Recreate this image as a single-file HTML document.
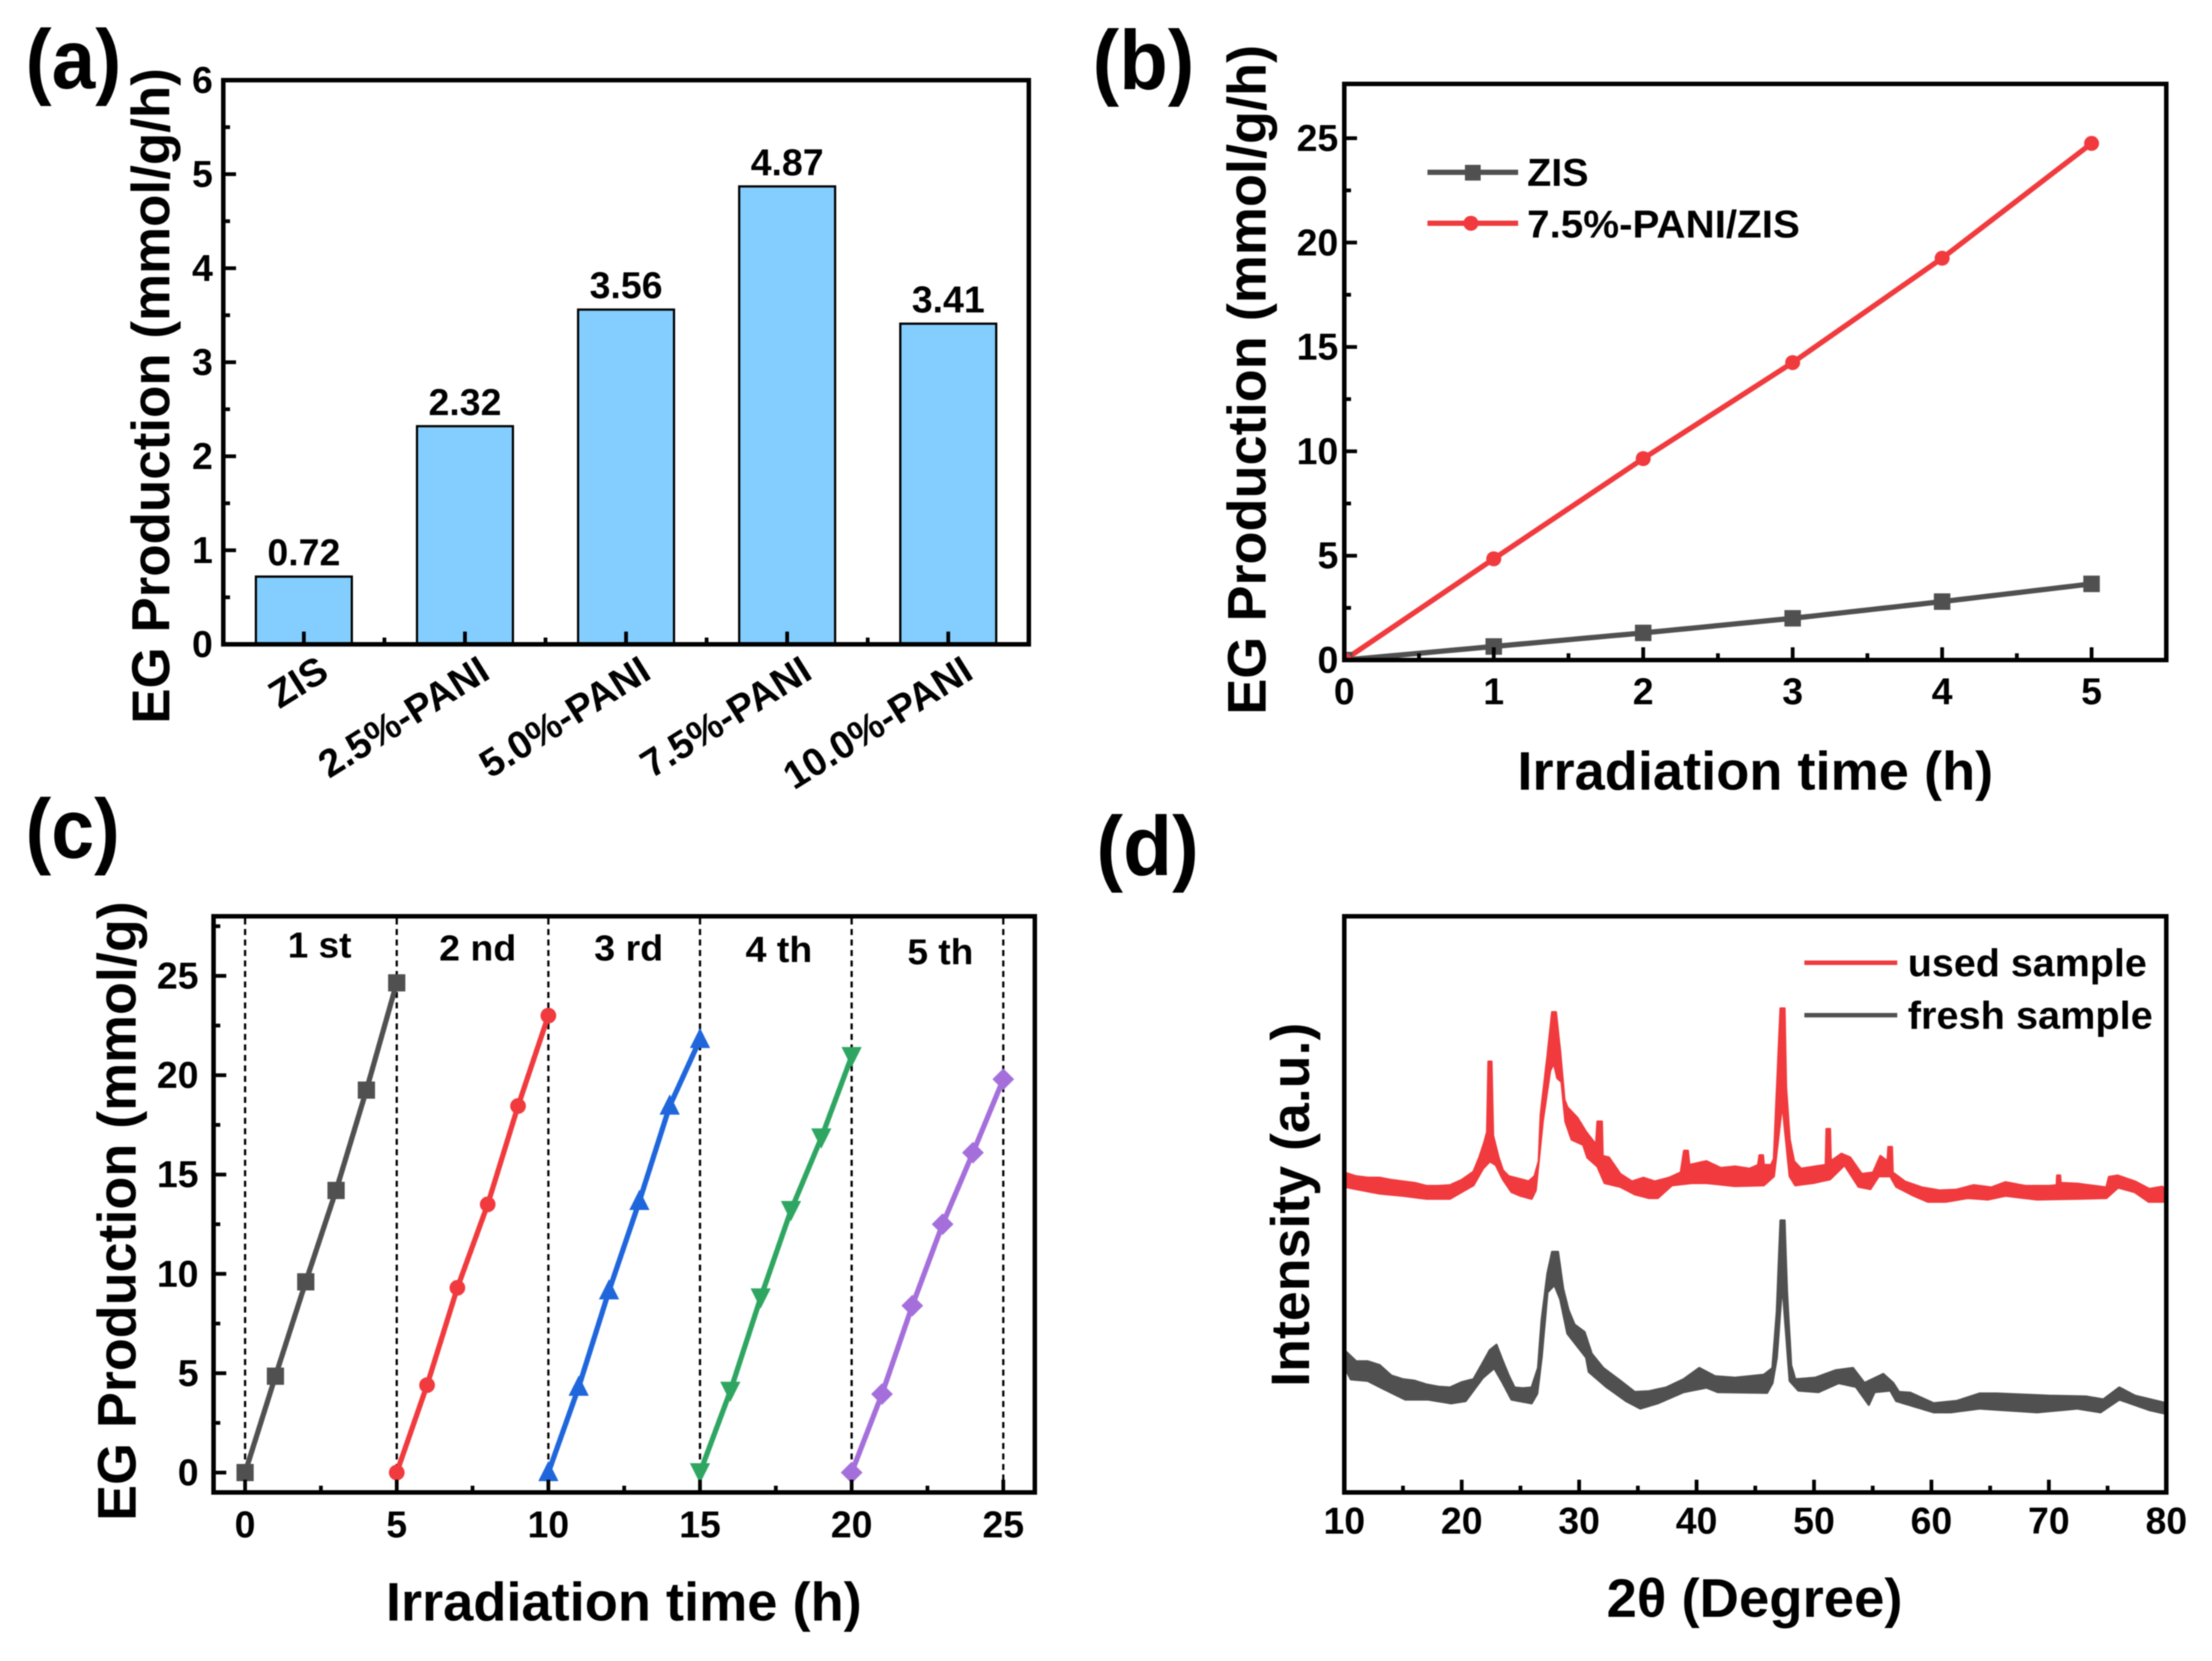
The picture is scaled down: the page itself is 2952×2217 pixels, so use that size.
<!DOCTYPE html>
<html lang="en">
<head>
<meta charset="utf-8">
<title>EG production panels</title>
<style>
html,body{margin:0;padding:0;background:#fff;width:2952px;height:2217px;overflow:hidden}
svg{display:block;filter:blur(0.7px)}
text{font-family:"Liberation Sans",sans-serif;font-weight:bold;fill:#000}
</style>
</head>
<body>
<svg id="figure" xmlns="http://www.w3.org/2000/svg" width="2952" height="2217" viewBox="0 0 2952 2217">
<defs>
<clipPath id="clip-b"><rect x="1794" y="112" width="1097" height="769"/></clipPath>
<clipPath id="clip-d"><rect x="1794" y="1223" width="1104" height="769"/></clipPath>
</defs>
<rect width="2952" height="2217" fill="#fff"/>

<text x="34" y="118" font-size="112" textLength="128" lengthAdjust="spacingAndGlyphs">(a)</text>
<text x="1458" y="119" font-size="112" textLength="136" lengthAdjust="spacingAndGlyphs">(b)</text>
<text x="34" y="1145" font-size="112" textLength="126" lengthAdjust="spacingAndGlyphs">(c)</text>
<text x="1463" y="1168" font-size="112" textLength="137" lengthAdjust="spacingAndGlyphs">(d)</text>

<g id="panel-a">
<g id="a-marks"></g>
<g id="a-axes"></g>
<rect x="298" y="107" width="1075" height="753" fill="none" stroke="#000" stroke-width="6"/>
<text transform="translate(226 966) rotate(-90)" font-size="71" textLength="875" lengthAdjust="spacingAndGlyphs">EG Production (mmol/g/h)</text>
</g>

<g id="panel-b">
<g id="b-marks" clip-path="url(#clip-b)"></g>
<g id="b-axes"></g>
<rect x="1794" y="112" width="1097" height="769" fill="none" stroke="#000" stroke-width="6"/>
<text transform="translate(1689 954) rotate(-90)" font-size="72" textLength="894" lengthAdjust="spacingAndGlyphs">EG Production (mmol/g/h)</text>
<text x="2025" y="1054" font-size="72" textLength="635" lengthAdjust="spacingAndGlyphs">Irradiation time (h)</text>
<g>
<line x1="1905" y1="230" x2="2026" y2="230" stroke="#505050" stroke-width="7"/>
<rect x="1955" y="220" width="21" height="21" fill="#505050"/>
<text x="2038" y="248" font-size="52" textLength="82" lengthAdjust="spacingAndGlyphs">ZIS</text>
<line x1="1905" y1="298" x2="2026" y2="298" stroke="#F03A3D" stroke-width="7"/>
<circle cx="1963" cy="298" r="10" fill="#F03A3D"/>
<text x="2038" y="317" font-size="52" textLength="364" lengthAdjust="spacingAndGlyphs">7.5%-PANI/ZIS</text>
</g>
</g>

<g id="panel-c">
<g id="c-guides"></g>
<g id="c-marks"></g>
<g id="c-axes"></g>
<rect x="285" y="1223" width="1096" height="769" fill="none" stroke="#000" stroke-width="6"/>
<text transform="translate(181 2030) rotate(-90)" font-size="72" textLength="827" lengthAdjust="spacingAndGlyphs">EG Production (mmol/g)</text>
<text x="515" y="2163" font-size="72" textLength="635" lengthAdjust="spacingAndGlyphs">Irradiation time (h)</text>
<text x="384" y="1278" font-size="48" textLength="85" lengthAdjust="spacingAndGlyphs">1 st</text>
<text x="586" y="1282" font-size="48" textLength="103" lengthAdjust="spacingAndGlyphs">2 nd</text>
<text x="793" y="1282" font-size="48" textLength="92" lengthAdjust="spacingAndGlyphs">3 rd</text>
<text x="995" y="1284" font-size="48" textLength="89" lengthAdjust="spacingAndGlyphs">4 th</text>
<text x="1211" y="1287" font-size="48" textLength="88" lengthAdjust="spacingAndGlyphs">5 th</text>
</g>

<g id="panel-d">
<g id="d-marks" clip-path="url(#clip-d)"></g>
<g id="d-axes"></g>
<rect x="1794" y="1223" width="1097" height="769" fill="none" stroke="#000" stroke-width="6"/>
<text transform="translate(1747 1851) rotate(-90)" font-size="72" textLength="486" lengthAdjust="spacingAndGlyphs">Intensity (a.u.)</text>
<text x="2144" y="2158" font-size="72" textLength="395" lengthAdjust="spacingAndGlyphs">2θ (Degree)</text>
<g>
<line x1="2408" y1="1285" x2="2532" y2="1285" stroke="#F03A3D" stroke-width="6"/>
<text x="2546" y="1303" font-size="52" textLength="319" lengthAdjust="spacingAndGlyphs">used sample</text>
<line x1="2408" y1="1355" x2="2532" y2="1355" stroke="#505050" stroke-width="6"/>
<text x="2546" y="1373" font-size="52" textLength="327" lengthAdjust="spacingAndGlyphs">fresh sample</text>
</g>
</g>
</svg>

<script>
// Panel (a)
const aCategories = ['ZIS', '2.5%-PANI', '5.0%-PANI', '7.5%-PANI', '10.0%-PANI'];
const aValues = [0.72, 2.32, 3.56, 4.87, 3.41];
const aValueLabels = ['0.72', '2.32', '3.56', '4.87', '3.41'];
const aYTicks = [0, 1, 2, 3, 4, 5, 6];

// Panel (b)
const bXTicks = [0, 1, 2, 3, 4, 5];
const bYTicks = [0, 5, 10, 15, 20, 25];
const bHours = [0, 1, 2, 3, 4, 5];
const bZis = [0, 0.65, 1.3, 2.0, 2.8, 3.65];
const bPani = [0, 4.85, 9.65, 14.25, 19.25, 24.75];

// Panel (c)
const cXTicks = [0, 5, 10, 15, 20, 25];
const cYTicks = [0, 5, 10, 15, 20, 25];
const cDividers = [0, 5, 10, 15, 20, 25];
const cCycleHours = [0, 1, 2, 3, 4, 5];
const cCycle1 = [0, 4.85, 9.6, 14.2, 19.25, 24.65];
const cCycle2 = [0, 4.4, 9.3, 13.5, 18.45, 23];
const cCycle3 = [0, 4.3, 9.15, 13.65, 18.45, 21.8];
const cCycle4 = [0, 4.1, 8.8, 13.2, 16.85, 20.95];
const cCycle5 = [0, 3.95, 8.4, 12.5, 16.1, 19.8];

// Panel (d): noisy trace band read as [2-theta, counts] along its upper and lower edges
const dXTicks = [10, 20, 30, 40, 50, 60, 70, 80];
const usedUpper = [[10,427],[11,422],[12,420],[13,420],[14,417],[15,415],[16,413],[17,409],[18,409],[19,410],[20,417],[21,428],[21.5,447],[21.9,466],[22.16,481],[22.28,575],[22.53,575],[22.67,476],[23.14,447],[23.5,430],[24,422],[25,418],[25.7,415],[26.2,422],[26.56,442],[26.73,505],[27.3,582],[27.7,641],[28.02,641],[28.39,587],[28.75,524],[29,514],[29.85,500],[30.6,481],[31.44,464],[31.56,495],[31.93,495],[32,449],[32.54,447],[33.5,425],[34.5,415],[35.47,420],[36.45,415],[37.67,420],[38.65,427],[38.94,456],[39.26,456],[39.38,437],[40.84,442],[42.06,433],[43.28,435],[44.5,432],[45.24,437],[45.36,450],[45.65,450],[45.73,437],[46.34,437],[46.58,445],[46.83,534],[47.15,646],[47.49,646],[47.62,540],[47.93,471],[48.3,442],[48.9,432],[50.1,435],[51,437],[51.07,485],[51.36,485],[51.43,442],[52.34,452],[53.08,447],[54.06,425],[55.04,427],[55.65,449],[56.26,442],[56.33,461],[56.63,461],[56.7,427],[57.73,415],[59.2,407],[60.67,403],[62.14,404],[63.6,410],[65.1,407],[66.3,414],[68,409],[70,409],[70.67,410],[70.71,423],[70.96,423],[71,413],[72.43,412],[74.9,407],[75.12,421],[75.86,423],[77.33,415],[78.55,405],[79.66,408],[80,403]];
const usedLower = [[10,408],[11,405],[12,402],[13,399],[15,396],[17,392],[19,392],[20,401],[21,410],[21.8,432],[22.4,442],[22.9,437],[23.5,418],[24.24,401],[25,396],[25.95,392],[26.3,403],[26.68,461],[26.9,495],[27.53,563],[27.85,573],[28.14,553],[28.5,548],[28.83,495],[29.36,471],[30.34,464],[30.7,447],[31.56,435],[32.17,413],[33.5,408],[34.74,398],[35.96,393],[36.7,393],[37.9,410],[39.6,413],[40.84,413],[43.28,409],[45.73,410],[46.58,422],[47.3,520],[47.93,422],[48.4,410],[49.9,413],[51.36,418],[52.6,437],[53.8,408],[54.8,405],[55.5,422],[56.5,422],[57,408],[58.5,396],[59.7,388],[61.2,388],[63.1,393],[64.8,391],[66.3,396],[69,391],[72.4,392],[74.9,393],[75.9,407],[77.3,401],[78.5,388],[80,388]];
const freshUpper = [[10,190],[11,175],[12,175],[13,170],[14,156],[15,151],[16,149],[17,144],[18,141],[19,140],[20,147],[21,151],[21.8,173],[22.4,190],[22.96,197],[23.5,175],[24,156],[24.5,140],[25.2,139],[25.95,140],[26.5,166],[26.8,229],[27.3,292],[27.7,321],[28.2,321],[28.63,272],[29.1,243],[29.6,224],[30.46,214],[31.07,185],[32.05,166],[33.5,149],[34.74,134],[35.96,135],[37.42,140],[38.9,151],[40.23,166],[41.57,155],[43.28,153],[45.73,157],[46.46,166],[46.83,240],[47.15,363],[47.49,363],[47.7,267],[48.05,170],[48.4,151],[50.1,153],[51.85,163],[53.32,166],[54.3,146],[55.9,158],[56.75,146],[57.24,134],[58.2,133],[60.18,119],[62.14,122],[64.1,132],[65.57,132],[70,129],[73.17,128],[74.64,124],[76,140],[77.33,129],[80,119]];
const freshLower = [[10,168],[10.56,151],[12,149],[13.25,139],[15.2,124],[17.15,124],[19.1,119],[20.33,122],[21.8,153],[22.77,166],[23.5,146],[24.24,124],[25.95,119],[26.43,132],[26.8,180],[27.3,267],[27.9,277],[28.39,258],[29,212],[30.6,180],[30.82,161],[32.3,141],[34,122],[35.22,112],[36.7,119],[38.9,134],[40.84,140],[41.8,134],[46,133],[46.46,146],[46.83,180],[47.3,280],[47.93,149],[48.67,136],[50.38,134],[52.1,146],[53.57,141],[54.67,117],[55.16,134],[56.5,136],[57,122],[60.18,107],[61.65,107],[64.1,112],[69,107],[72.43,112],[74.4,107],[76,124],[78.55,110],[80,105]];

const SVGNS = 'http://www.w3.org/2000/svg';
const BLACK = '#505050', RED = '#F03A3D', BLUE = '#1F66DC', GREEN = '#2EA662', PURPLE = '#A56FDB';

function node(tag, parentId) {
  const n = document.createElementNS(SVGNS, tag);
  document.getElementById(parentId).appendChild(n);
  return n;
}
function set(n, props) {
  Object.keys(props).forEach(function (k) { n.setAttribute(k, props[k]); });
  return n;
}
function linear(d0, d1, r0, r1) {
  return function (v) { return r0 + (v - d0) * (r1 - r0) / (d1 - d0); };
}

function tickLine(parentId, x1, y1, x2, y2, w) {
  const el = node('line', parentId);
  set(el, { x1: x1, y1: y1, x2: x2, y2: y2, stroke: '#000', 'stroke-width': w });
  
  
}
function tickLabel(parentId, x, y, str, anchor) {
  const el = node('text', parentId);
  set(el, { x: x, y: y, 'font-size': 50, 'text-anchor': anchor });
  el.textContent = str;
  
  
}
function xAxis(id, sx, baseY, ticks, step, labelY) {
  ticks.forEach(function (v, i) {
    tickLine(id, sx(v), baseY, sx(v), baseY - 17, 5);
    if (i < ticks.length - 1) tickLine(id, sx(v + step / 2), baseY, sx(v + step / 2), baseY - 9, 5);
    tickLabel(id, sx(v), labelY, String(v), 'middle');
  });
  const last = ticks[ticks.length - 1] + step / 2;
  if (sx(last) < sx.max) tickLine(id, sx(last), baseY, sx(last), baseY - 9, 5);
}
function yAxis(id, sy, baseX, ticks, step, labelX, drawLastMinor) {
  ticks.forEach(function (v, i) {
    tickLine(id, baseX, sy(v), baseX + 17, sy(v), 5);
    if (i < ticks.length - 1 || drawLastMinor) tickLine(id, baseX, sy(v + step / 2), baseX + 9, sy(v + step / 2), 5);
    tickLabel(id, labelX, sy(v) + 17, String(v), 'end');
  });
}
function linePath(parentId, xs, ys, color, width, name) {
  const el = node('polyline', parentId);
  set(el, { points: xs.map(function (x, i) { return x + ',' + ys[i]; }).join(' '), fill: 'none', stroke: color, 'stroke-width': width, 'stroke-linejoin': 'round' });
  
  
}
function marker(parentId, shape, x, y, s, color, name) {
  let el;
  if (shape === 'circle') {
    el = node('circle', parentId);
    set(el, { cx: x, cy: y, r: s / 2, fill: color });
  } else if (shape === 'square') {
    el = node('rect', parentId);
    set(el, { x: x - s / 2, y: y - s / 2, width: s, height: s, fill: color });
  } else {
    el = node('polygon', parentId);
    const h = s / 2;
    let pts;
    if (shape === 'up') pts = [[x - h, y + h - 2], [x + h, y + h - 2], [x, y - h - 2]];
    if (shape === 'down') pts = [[x - h, y - h + 1], [x + h, y - h + 1], [x, y + h + 1]];
    if (shape === 'diamond') pts = [[x - h, y], [x, y - h], [x + h, y], [x, y + h]];
    set(el, { points: pts.map(function (p) { return p.join(','); }).join(' '), fill: color });
  }
  
  
}

/* Panel a */
(function () {
  const sx = linear(0.5, 5.5, 298, 1373);
  const sy = linear(0, 6, 860, 107);
  const barWidth = 128;
  aValues.forEach(function (v, i) {
    const bar = node('rect', 'a-marks');
    set(bar, { x: sx(i + 1) - barWidth / 2, y: sy(v), width: barWidth, height: sy(0) - sy(v), fill: '#84CEFF', stroke: '#000', 'stroke-width': 3 });
    
    
    const val = node('text', 'a-marks');
    set(val, { x: sx(i + 1), y: sy(v) - 15, 'font-size': 50, 'text-anchor': 'middle' });
    val.textContent = aValueLabels[i];
    
    
    tickLine('a-axes', sx(i + 1), 860, sx(i + 1), 843, 5);
    if (i < aValues.length - 1) tickLine('a-axes', sx(i + 1.5), 860, sx(i + 1.5), 851, 5);
    const cat = node('text', 'a-axes');
    set(cat, { 'font-size': 52, 'text-anchor': 'end', transform: 'translate(' + (sx(i + 1) + 36) + ' 904) rotate(-32)' });
    cat.textContent = aCategories[i];
    
    
  });
  yAxis('a-axes', sy, 298, aYTicks, 1, 284, false);
})();

/* Panel b */
(function () {
  const sx = linear(0, 5.5, 1794, 2891);
  sx.max = 2891;
  const sy = linear(0, 27.6, 881, 112);
  xAxis('b-axes', sx, 881, bXTicks, 1, 940);
  yAxis('b-axes', sy, 1794, bYTicks, 5, 1786, false);
  linePath('b-marks', bHours.map(sx), bZis.map(sy), BLACK, 7, 'line-zis');
  linePath('b-marks', bHours.map(sx), bPani.map(sy), RED, 7, 'line-7-5-pani-zis');
  bHours.forEach(function (h, i) {
    marker('b-marks', 'square', sx(h), sy(bZis[i]), 22, BLACK, 'point-zis');
    marker('b-marks', 'circle', sx(h), sy(bPani[i]), 20, RED, 'point-pani');
  });
})();

/* Panel c */
(function () {
  const sx = linear(-1.04, 26.04, 285, 1381);
  sx.max = 1381;
  const sy = linear(-1, 28, 1992, 1223);
  cDividers.forEach(function (v) {
    const g = node('line', 'c-guides');
    set(g, { x1: sx(v), y1: 1226, x2: sx(v), y2: 1990, stroke: '#000', 'stroke-width': 3, 'stroke-dasharray': '8 6' });
    
    
  });
  xAxis('c-axes', sx, 1992, cXTicks, 5, 2052);
  yAxis('c-axes', sy, 285, cYTicks, 5, 265, true);
  const cycles = [cCycle1, cCycle2, cCycle3, cCycle4, cCycle5];
  const colors = [BLACK, RED, BLUE, GREEN, PURPLE];
  const shapes = ['square', 'circle', 'up', 'down', 'diamond'];
  const sizes = [23, 21, 27, 27, 29];
  cycles.forEach(function (vals, c) {
    const xs = cCycleHours.map(function (h) { return sx(h + cDividers[c]); });
    linePath('c-marks', xs, vals.map(sy), colors[c], 7, 'line-cycle-' + (c + 1));
    vals.forEach(function (v, i) {
      marker('c-marks', shapes[c], xs[i], sy(v), sizes[c], colors[c], 'point-cycle-' + (c + 1));
    });
  });
})();

/* Panel d */
(function () {
  const sx = linear(10, 80, 1794, 2891);
  sx.max = 2891;
  const sy = linear(0, 769, 1992, 1223);
  xAxis('d-axes', sx, 1992, dXTicks, 10, 2047);
  function band(upper, lower, color, name) {
    const el = node('polygon', 'd-marks');
    const pts = upper.concat(lower.slice().reverse()).map(function (p) { return sx(p[0]).toFixed(1) + ',' + sy(p[1]).toFixed(1); });
    set(el, { points: pts.join(' '), fill: color, stroke: color, 'stroke-width': 3, 'stroke-linejoin': 'round' });
    
    
  }
  band(usedUpper, usedLower, RED, 'trace-used-sample');
  band(freshUpper, freshLower, BLACK, 'trace-fresh-sample');
})();
</script>
</body>
</html>
